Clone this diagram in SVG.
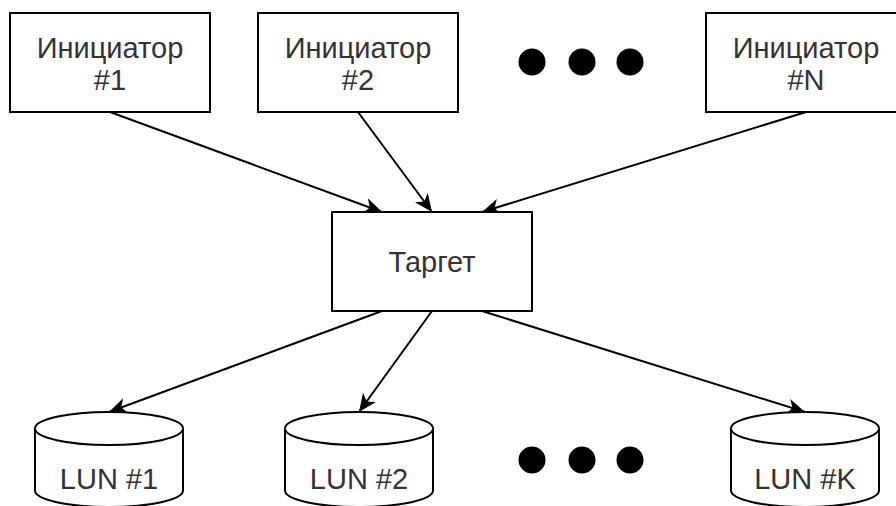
<svg xmlns="http://www.w3.org/2000/svg" width="896" height="506" viewBox="0 0 896 506">
  <style>
    .box { fill: #fff; stroke: #000; stroke-width: 2; }
    .lbl { font-family: "Liberation Sans", Arial, sans-serif; font-size: 29px; fill: #333; text-anchor: middle; }
    .edge { fill: none; stroke: #000; stroke-width: 2; marker-end: url(#arrow); }
    .dot { fill: #000; }
  </style>
  <defs>
    <marker id="arrow" markerUnits="userSpaceOnUse" markerWidth="20" markerHeight="16" refX="18" refY="8" orient="auto">
      <path d="M0,0 L18,8 L0,16 L5,8 Z" fill="#000"/>
    </marker>
  </defs>
  <rect width="896" height="506" fill="#fff"/>

  <!-- connectors -->
  <g id="connectors">
    <line class="edge" x1="110" y1="112" x2="382" y2="212"/>
    <line class="edge" x1="358" y1="112" x2="432" y2="212"/>
    <line class="edge" x1="806" y1="112" x2="482" y2="212"/>
    <line class="edge" x1="382" y1="311" x2="109" y2="412"/>
    <line class="edge" x1="432" y1="311" x2="359" y2="412"/>
    <line class="edge" x1="482" y1="311" x2="805" y2="412"/>
  </g>

  <!-- initiators -->
  <g id="initiator1">
    <rect class="box" x="10" y="13" width="200" height="99"/>
    <text class="lbl" x="110" y="58">Инициатор</text>
    <text class="lbl" x="110" y="90">#1</text>
  </g>
  <g id="initiator2">
    <rect class="box" x="258" y="13" width="200" height="99"/>
    <text class="lbl" x="358" y="58">Инициатор</text>
    <text class="lbl" x="358" y="90">#2</text>
  </g>
  <g id="initiatorN">
    <rect class="box" x="706" y="13" width="200" height="99"/>
    <text class="lbl" x="806" y="58">Инициатор</text>
    <text class="lbl" x="806" y="90">#N</text>
  </g>

  <!-- ellipsis between initiators -->
  <g id="dots-top">
    <circle class="dot" cx="532" cy="62" r="13.5"/>
    <circle class="dot" cx="582" cy="62" r="13.5"/>
    <circle class="dot" cx="630" cy="62" r="13.5"/>
  </g>

  <!-- target -->
  <g id="target">
    <rect class="box" x="332" y="212" width="200" height="99"/>
    <text class="lbl" x="432" y="272">Таргет</text>
  </g>

  <!-- LUN cylinders -->
  <g id="lun1">
    <path class="box" d="M35,428.5 A74,16.5 0 0 1 183,428.5 V490.5 A74,16.5 0 0 1 35,490.5 Z"/>
    <path class="box" fill="none" d="M35,428.5 A74,16.5 0 0 0 183,428.5"/>
    <text class="lbl" x="109" y="489">LUN #1</text>
  </g>
  <g id="lun2">
    <path class="box" d="M285,428.5 A74,16.5 0 0 1 433,428.5 V490.5 A74,16.5 0 0 1 285,490.5 Z"/>
    <path class="box" fill="none" d="M285,428.5 A74,16.5 0 0 0 433,428.5"/>
    <text class="lbl" x="359" y="489">LUN #2</text>
  </g>
  <g id="lunK">
    <path class="box" d="M731,428.5 A74,16.5 0 0 1 879,428.5 V490.5 A74,16.5 0 0 1 731,490.5 Z"/>
    <path class="box" fill="none" d="M731,428.5 A74,16.5 0 0 0 879,428.5"/>
    <text class="lbl" x="805" y="489">LUN #K</text>
  </g>

  <!-- ellipsis between LUNs -->
  <g id="dots-bottom">
    <circle class="dot" cx="532" cy="460" r="13.5"/>
    <circle class="dot" cx="582" cy="460" r="13.5"/>
    <circle class="dot" cx="630" cy="460" r="13.5"/>
  </g>
</svg>
